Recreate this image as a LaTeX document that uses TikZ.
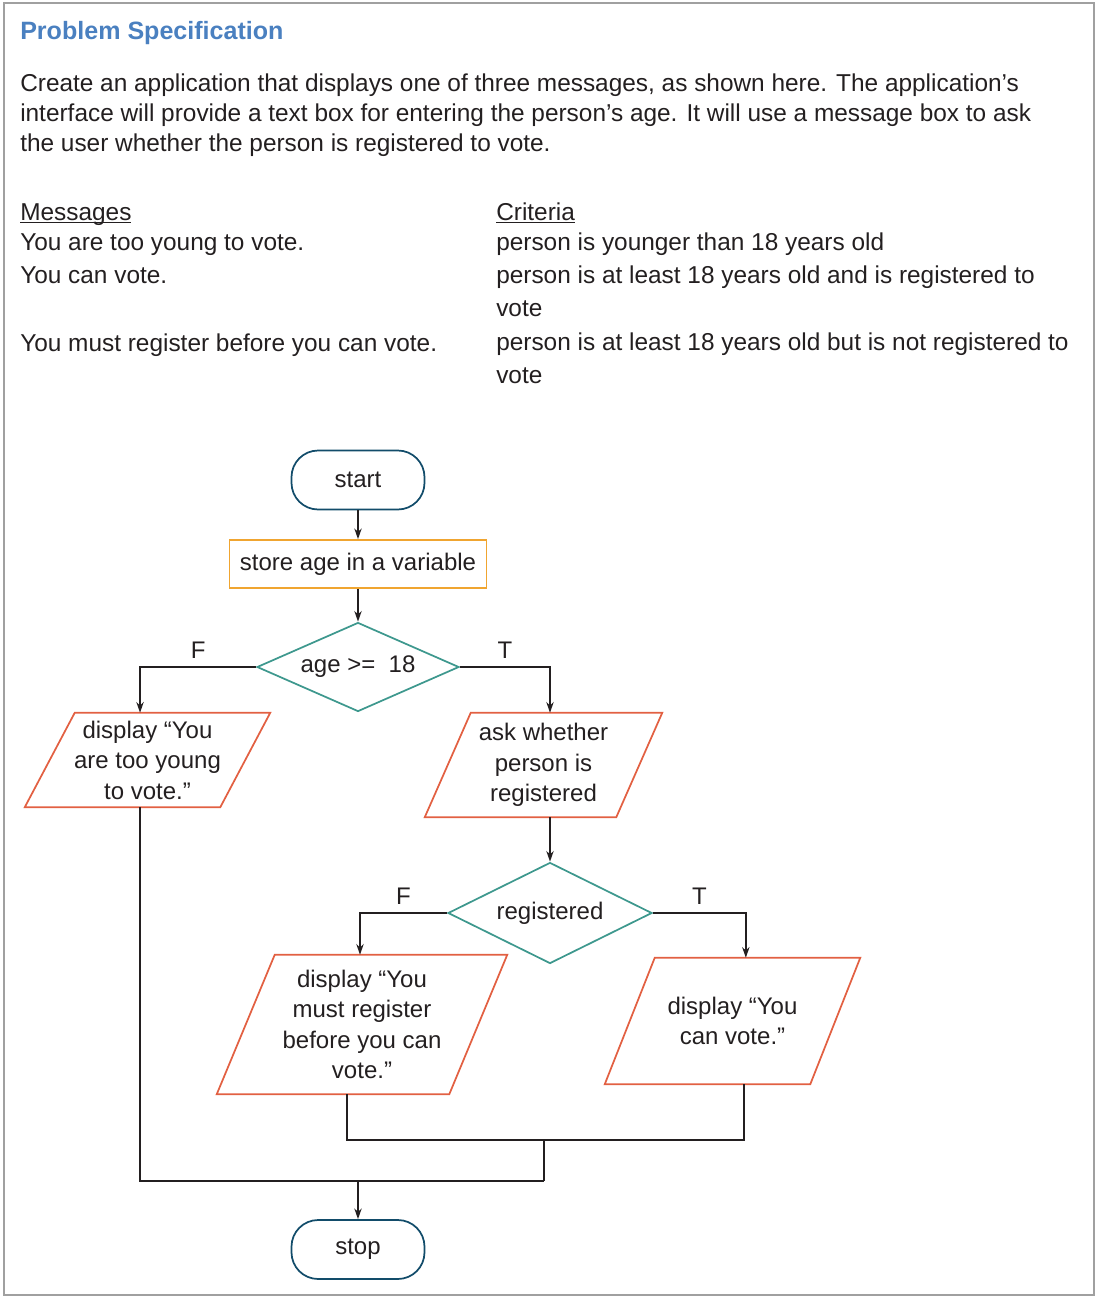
\documentclass[tikz,border=0pt]{standalone}
\usepackage{fontspec}
\setmainfont{Liberation Sans}
\usepackage{xcolor}
\usetikzlibrary{shapes.geometric, arrows.meta, positioning}

\definecolor{termblue}{RGB}{18,76,106}
\definecolor{storeorange}{RGB}{240,165,48}
\definecolor{decteal}{RGB}{62,152,142}
\definecolor{iored}{RGB}{226,96,66}
\definecolor{titleblue}{RGB}{74,128,192}
\definecolor{framegray}{RGB}{160,160,160}
\definecolor{ink}{RGB}{35,31,32}

% parallelogram round an io node: node name, slant
\newcommand{\ioshape}[2]{%
  \draw[iored, line width=1.3pt] ([xshift=#2]#1.north west) -- (#1.north east)
    -- ([xshift=-#2]#1.south east) -- (#1.south west) -- cycle;}
\newcommand{\ulined}[1]{\underline{\smash{#1}}}

\begin{document}
\begin{tikzpicture}[x=0.75pt, y=-0.75pt, node distance=2.5cm,
    every node/.style={text=ink, font=\fontsize{18.3}{22.5}\selectfont},
    txt/.style={inner sep=0pt, align=left},
    chart/.style={font=\fontsize{18}{22.9}\selectfont},
    term/.style={chart, rectangle, rounded corners=20pt, draw=termblue, line width=1.3pt, minimum width=99.75pt, minimum height=44.25pt},
    proc/.style={chart, rectangle, draw=storeorange, line width=1.3pt, minimum width=192.75pt, minimum height=36pt, inner sep=0pt},
    decision/.style={chart, diamond, draw=decteal, line width=1.3pt, inner sep=0pt, aspect=2},
    io/.style={chart, inner sep=0pt, align=center},
    flow/.style={draw=ink, line width=1.3pt},
    arrow/.style={flow, -{Stealth[length=8pt, width=5.5pt]}},
    lbl/.style={chart, above=6pt, inner sep=0pt}]

    \useasboundingbox (0,0) rectangle (1096,1297);
    \draw[framegray, line width=1.5pt] (4,3) rectangle (1094,1295);

    % specification text (base of a multi-line node = its last line)
    \node[txt, anchor=base west, font=\bfseries\fontsize{18.8}{22}\selectfont, text=titleblue] (title) at (20,39) {Problem Specification};
    \node[txt, anchor=base west] (spec) at (20,151) {Create an application that displays one of three messages, as shown here. The application’s\\interface will provide a text box for entering the person’s age. It will use a message box to ask\\the user whether the person is registered to vote.};

    \node[txt, anchor=base west] (msghead) at (20,220) {\ulined{Messages}};
    \node[txt, anchor=base west] (crithead) at (496,220) {\ulined{Criteria}};
    \node[txt, anchor=base west] (msgyoung) at (20,250) {You are too young to vote.};
    \node[txt, anchor=base west] (crityoung) at (496,250) {person is younger than 18 years old};
    \node[txt, anchor=base west] (msgcan) at (20,283) {You can vote.};
    \node[txt, anchor=base west, font=\fontsize{18.3}{24.75}\selectfont] (critcan) at (496,316) {person is at least 18 years old and is registered to\\vote};
    \node[txt, anchor=base west] (msgmust) at (20,351) {You must register before you can vote.};
    \node[txt, anchor=base west, font=\fontsize{18.3}{24.75}\selectfont] (critmust) at (496,383) {person is at least 18 years old but is not registered to\\vote};

    % flowchart
    \node[term] (start) at (358,480) {start};
    \node[proc, below of=start, node distance=63pt] (store) {store age in a variable};
    \node[decision, minimum width=151.5pt, minimum height=66.75pt, below of=store, node distance=77.25pt] (agecheck) {age >=\ \ 18};
    \node[io, minimum width=183.75pt, minimum height=70.5pt] (young) at (147.5,760) {display “You\\are too young\\to vote.”};
    \node[io, minimum width=177.75pt, minimum height=78pt] (askreg) at (543.5,765) {ask whether\\person is\\registered};
    \node[decision, minimum width=153pt, minimum height=75.75pt] (regcheck) at (550,913) {registered};
    \node[io, minimum width=217.5pt, minimum height=104.25pt] (mustreg) at (362,1024.5) {display “You\\must register\\before you can\\vote.”};
    \node[io, minimum width=191.25pt, minimum height=94.5pt] (canvote) at (732.5,1021) {display “You\\can vote.”};
    \node[term] (stop) at (358,1249.5) {stop};

    \ioshape{young}{37.5pt}
    \ioshape{askreg}{34.5pt}
    \ioshape{mustreg}{43.5pt}
    \ioshape{canvote}{37.5pt}

    \draw[arrow] (start) -- (store);
    \draw[arrow] (store) -- (agecheck);
    \draw[arrow] (agecheck.west) -| ([xshift=-5.6pt]young.north) node[lbl, pos=0.25] {F};
    \draw[arrow] (agecheck.east) -| (askreg.north -| regcheck.north) node[lbl, pos=0.25] {T};
    \draw[arrow] (regcheck.north |- askreg.south) -- (regcheck.north);
    \draw[arrow] (regcheck.west) -| ([xshift=-1.5pt]mustreg.north) node[lbl, pos=0.25] {F};
    \draw[arrow] (regcheck.east) -| ([xshift=10pt]canvote.north) node[lbl, pos=0.25] {T};

    % merging the branches
    \coordinate (joinreg) at (544,1140);
    \coordinate (joinall) at (544,1181);
    \draw[flow] ([xshift=-11.25pt]mustreg.south) |- (joinreg) -| ([xshift=8.6pt]canvote.south);
    \draw[flow] (joinreg) -- (joinall);
    \draw[flow] ([xshift=-5.6pt]young.south) |- (joinall);
    \draw[arrow] (stop.north |- joinall) -- (stop);
\end{tikzpicture}
\end{document}
